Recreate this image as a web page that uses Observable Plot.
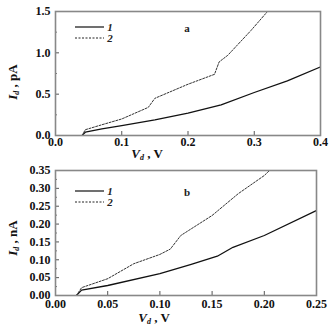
<!DOCTYPE html>
<html><head><meta charset="utf-8">
<script src="https://cdn.jsdelivr.net/npm/d3@7"></script>
<script src="https://cdn.jsdelivr.net/npm/@observablehq/plot@0.6"></script>
<style>body{margin:0;background:#fff;width:333px;height:326px;overflow:hidden}svg{display:block}</style>
</head><body><div id="c"></div>
<script>
// Panel a: V_d (V) vs I_d (pA)
const aV1 = [0.040, 0.045, 0.07, 0.10, 0.15, 0.20, 0.25, 0.30, 0.35, 0.40];
const aI1 = [0.00, 0.04, 0.08, 0.12, 0.19, 0.27, 0.37, 0.52, 0.66, 0.83];
const aV2 = [0.040, 0.045, 0.07, 0.10, 0.14, 0.15, 0.20, 0.24, 0.247, 0.26, 0.295, 0.32];
const aI2 = [0.00, 0.07, 0.13, 0.20, 0.34, 0.45, 0.62, 0.74, 0.89, 0.97, 1.27, 1.50];
// Panel b: V_d (V) vs I_d (nA)
const bV1 = [0.020, 0.025, 0.05, 0.10, 0.13, 0.155, 0.17, 0.20, 0.25];
const bI1 = [0.000, 0.015, 0.028, 0.061, 0.087, 0.110, 0.135, 0.168, 0.238];
const bV2 = [0.020, 0.025, 0.05, 0.075, 0.10, 0.11, 0.12, 0.15, 0.175, 0.20, 0.205];
const bI2 = [0.000, 0.022, 0.047, 0.089, 0.115, 0.130, 0.168, 0.224, 0.285, 0.336, 0.350];
const aXTicks = [0, 0.1, 0.2, 0.3, 0.4];
const aYTicks = [0, 0.5, 1.0, 1.5];
const aYMinor = [0.25, 0.75, 1.25];
const bXTicks = [0, 0.05, 0.10, 0.15, 0.20, 0.25];
const bYTicks = [0, 0.05, 0.10, 0.15, 0.20, 0.25, 0.30, 0.35];
const bYMinor = [0.025, 0.075, 0.125, 0.175, 0.225, 0.275, 0.325];
const legendLabels = ["1", "2"];

const font = "Liberation Serif";
function panel(o) {
  const s1 = o.v1.map((v, i) => ({v, i: o.i1[i]}));
  const s2 = o.v2.map((v, i) => ({v, i: o.i2[i]}));
  const H = o.h;
  const pw = 333 - 55 - o.mr, ph = H - o.mt - o.mb;
  const svg = Plot.plot({
    width: 333, height: H,
    marginLeft: 55, marginRight: o.mr, marginTop: o.mt, marginBottom: o.mb,
    style: {fontFamily: font, fontSize: "12px", fontWeight: "bold", color: "#111", background: "#fff"},
    x: {domain: o.xd, ticks: o.xt, tickFormat: o.xf, label: null},
    y: {domain: o.yd, ticks: o.yt, tickFormat: o.yf, label: null},
    marks: [
      Plot.axisX({ticks: o.xt, tickFormat: o.xf, tickSize: 0, tickPadding: o.xtp, fontSize: 12}),
      Plot.axisY({ticks: o.yt, tickFormat: o.yf, tickSize: 0, tickPadding: 5, fontSize: 12}),
      Plot.tickY(o.yt, {y: d => d, insetRight: pw - 4, stroke: "#555"}),
      Plot.tickY(o.ym, {y: d => d, insetRight: pw - 2, stroke: "#777"}),
      Plot.tickX(o.xt, {x: d => d, insetTop: ph - 4, stroke: "#555"}),
      Plot.line(s1, {x: "v", y: "i", stroke: "#111", strokeWidth: 1.3, clip: true}),
      Plot.line(s2, {x: "v", y: "i", stroke: "#333", strokeWidth: 1, strokeDasharray: "2,1.5", clip: true}),
      Plot.frame({stroke: "#888", strokeWidth: 1.6})
    ]
  });
  const g = d3.select(svg);
  // legend
  [0, 1].forEach(k => {
    g.append("line").attr("x1", 75).attr("x2", 104).attr("y1", o.ly + k * 11).attr("y2", o.ly + k * 11)
      .attr("stroke", "#222").attr("stroke-width", k ? 1 : 1.3).attr("stroke-dasharray", k ? "2,1.5" : null);
    g.append("text").attr("x", 110).attr("y", o.ly + k * 11 + 4).attr("font-family", font).attr("font-style", "italic")
      .attr("font-size", 11).attr("fill", "#222").text(legendLabels[k]);
  });
  g.append("text").attr("x", 187).attr("y", o.ly + 5).attr("font-family", font).attr("font-weight", "bold")
    .attr("font-size", 11).attr("fill", "#222").text(o.tag);
  // x label
  const xl = g.append("text").attr("x", o.xlx).attr("y", H - o.mb + o.xly).attr("text-anchor", "middle")
    .attr("font-family", font).attr("font-size", 13).attr("fill", "#111");
  xl.append("tspan").attr("font-style", "italic").text("V");
  xl.append("tspan").attr("font-style", "italic").attr("font-size", 8).attr("dy", 2).text("d");
  xl.append("tspan").attr("dy", -2).text(" , V");
  // y label
  const yl = g.append("text").attr("transform", `translate(17,${o.yly}) rotate(-90)`).attr("text-anchor", "middle")
    .attr("font-family", font).attr("font-size", 13).attr("fill", "#111");
  yl.append("tspan").attr("font-style", "italic").text("I");
  yl.append("tspan").attr("font-style", "italic").attr("font-size", 8).attr("dy", 2).text("d");
  yl.append("tspan").attr("dy", -2).text(" , " + o.unit);
  return svg;
}
const c = document.getElementById("c");
c.appendChild(panel({v1: aV1, i1: aI1, v2: aV2, i2: aI2, xd: [0, 0.4], yd: [0, 1.5], xt: aXTicks, yt: aYTicks, ym: aYMinor,
  xf: d3.format(".1f"), yf: d3.format(".1f"), h: 161, mr: 13, mt: 11, mb: 26, ly: 27, tag: "a", unit: "pA", xtp: 2, xlx: 147, xly: 23, yly: 82}));
c.appendChild(panel({v1: bV1, i1: bI1, v2: bV2, i2: bI2, xd: [0, 0.25], yd: [0, 0.35], xt: bXTicks, yt: bYTicks, ym: bYMinor,
  xf: d3.format(".2f"), yf: d3.format(".2f"), h: 165, mr: 17, mt: 9, mb: 31, ly: 30, tag: "b", unit: "nA", xtp: 4, xlx: 154, xly: 27, yly: 77}));
</script></body></html>
